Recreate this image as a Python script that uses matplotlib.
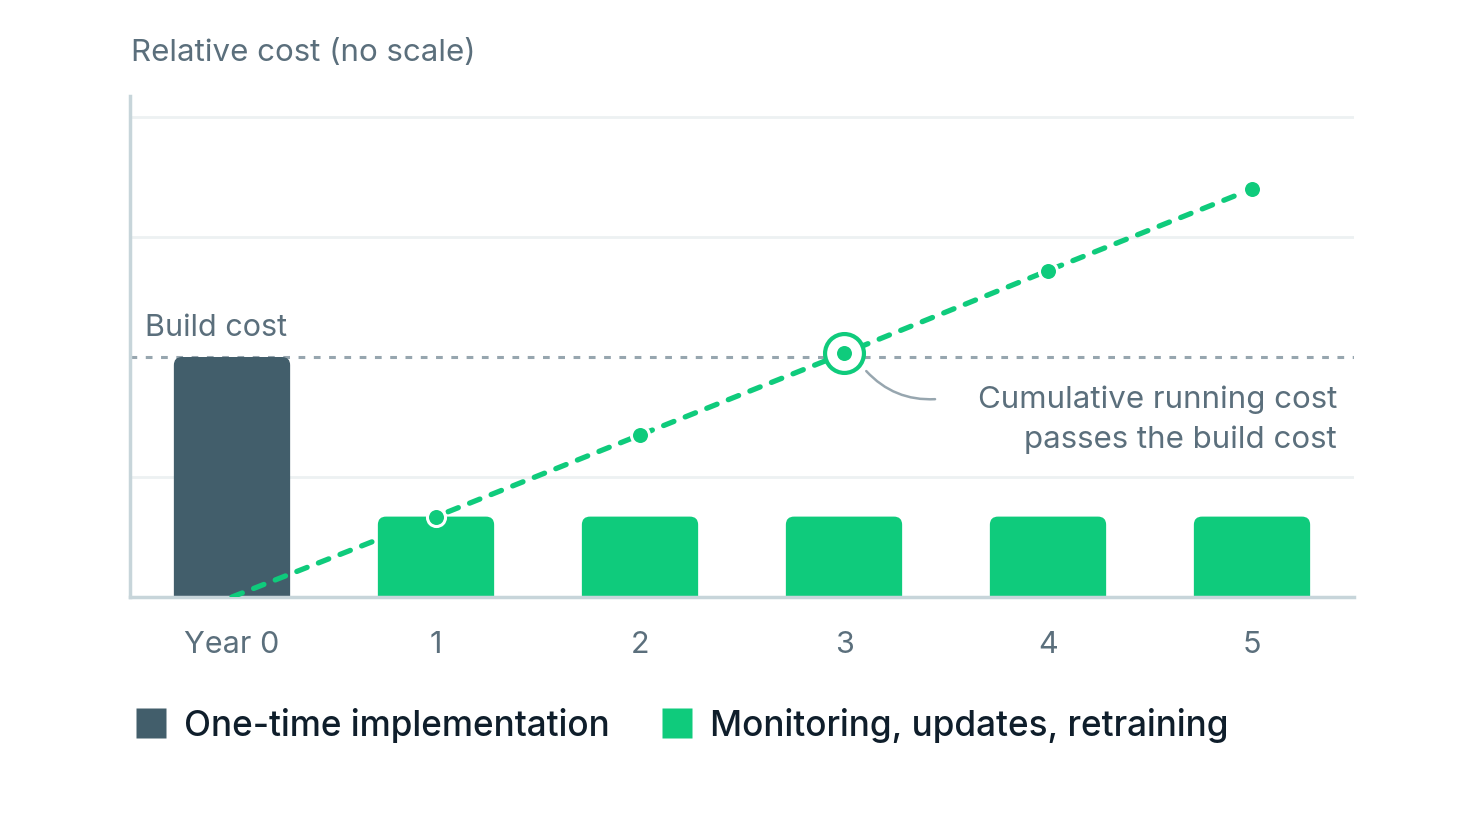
import numpy as np
import matplotlib
matplotlib.use("Agg")
import matplotlib.pyplot as plt
from matplotlib.patches import FancyBboxPatch
from matplotlib.lines import Line2D

plt.rcParams['font.family'] = ['Inter', 'DejaVu Sans']

years = [0, 1, 2, 3, 4, 5]
year_labels = ['Year 0', '1', '2', '3', '4', '5']
build_cost = 2.0
running_cost = [0.67, 0.67, 0.67, 0.67, 0.67]
cumulative = [0, 0.67, 1.35, 2.03, 2.72, 3.4]
crossover_year = 3

DARK = '#425E6B'
GREEN = '#0FCB7C'
GRAY_TXT = '#5B6F7C'
SPINE = '#C7D5DA'
GRID = '#EDF1F2'
DOT = '#97A6AF'

fig = plt.figure(figsize=(14.64, 8.29), dpi=100)
ax = fig.add_axes([130 / 1464, 1 - 598 / 829, 1224 / 1464, 501 / 829])
ax.set_xlim(-0.5, 5.5)
ax.set_ylim(0, 4.175)

# grid (the 2-line is replaced by the build cost line)
for g in [1, 3, 4]:
    ax.axhline(g, color=GRID, lw=2, zorder=0)
ax.axhline(build_cost, color=DOT, lw=2.2, dashes=(2.2, 2.8), zorder=1)

bw = 0.57
asp = 1.7


def rbar(x, h, color):
    p = FancyBboxPatch((x - bw / 2, -0.2), bw, h + 0.2,
                       boxstyle="round,pad=0,rounding_size=0.04",
                       mutation_aspect=asp, fc=color, ec='none', zorder=2)
    ax.add_patch(p)


rbar(years[0], build_cost, DARK)
for x, h in zip(years[1:], running_cost):
    rbar(x, h, GREEN)

ax.plot(years, cumulative, color=GREEN, lw=3.8, dashes=(2.1, 2.3), zorder=3,
        dash_capstyle='round')
ax.plot(years[1:], cumulative[1:], 'o', color=GREEN, ms=13, mec='white',
        mew=2.2, zorder=5)
ax.plot([crossover_year], [cumulative[crossover_year]], 'o', mfc='white',
        mec=GREEN, ms=28, mew=3, zorder=4)

ax.annotate('', xy=(3.1, 1.9), xytext=(3.46, 1.65),
            arrowprops=dict(arrowstyle='-', color=DOT, lw=1.8,
                            connectionstyle='arc3,rad=-0.25'))
ax.text(5.417, 1.65, 'Cumulative running cost', ha='right', va='center',
        fontsize=22.5, color=GRAY_TXT)
ax.text(5.417, 1.317, 'passes the build cost', ha='right', va='center',
        fontsize=22.5, color=GRAY_TXT)

ax.text(-0.426, 2.25, 'Build cost', ha='left', va='center', fontsize=22,
        color=GRAY_TXT)

for s in ['top', 'right']:
    ax.spines[s].set_visible(False)
for s in ['left', 'bottom']:
    ax.spines[s].set_color(SPINE)
    ax.spines[s].set_linewidth(2.5)
ax.set_yticks([])
ax.set_xticks(years)
ax.set_xticklabels(year_labels, fontsize=22, color=GRAY_TXT)
ax.tick_params(axis='x', length=0, pad=24)

fig.text(131 / 1464, 1 - 53 / 829, 'Relative cost (no scale)', ha='left',
         va='center', fontsize=22.5, color=GRAY_TXT)

handles = [Line2D([], [], marker='s', ls='none', ms=21, mfc=DARK, mec='none'),
           Line2D([], [], marker='s', ls='none', ms=21, mfc=GREEN, mec='none')]
fig.legend(handles, ['One-time implementation', 'Monitoring, updates, retraining'],
           loc='center left', bbox_to_anchor=(107 / 1464, 1 - 726 / 829),
           ncol=2, frameon=False, handlelength=0.7, handletextpad=0.6,
           columnspacing=1.55, prop=dict(size=25.3, weight='medium'),
           labelcolor='#0F1E2B')

fig.savefig('out.png', dpi=100)
